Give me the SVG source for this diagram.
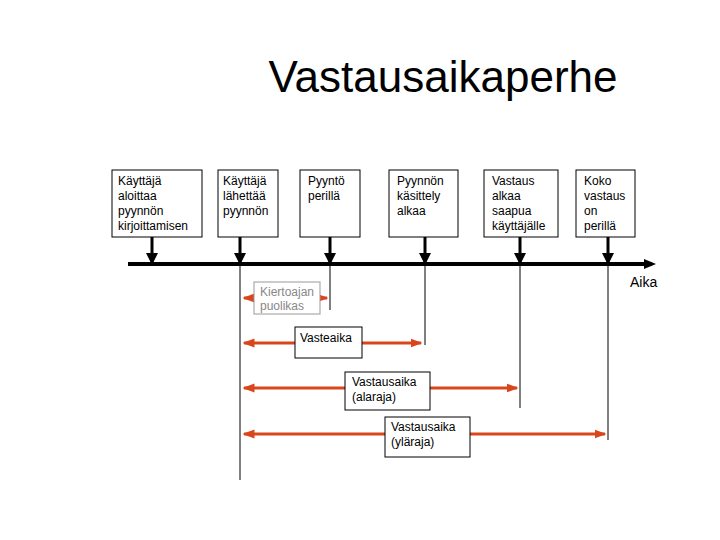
<svg xmlns="http://www.w3.org/2000/svg" width="720" height="540" viewBox="0 0 720 540">
<style>
text{font-family:"Liberation Sans",Arial,sans-serif;font-size:12px;fill:#000}
.b{fill:#fff;stroke:#000;stroke-width:1}
.d{stroke:#000;stroke-width:3;marker-end:url(#bk)}
.v{stroke:#000;stroke-width:1}
.r{stroke:#d9461c;stroke-width:3;marker-start:url(#rs);marker-end:url(#re)}
</style>
<defs>
<marker id="bk" markerWidth="4" markerHeight="4" refX="3" refY="2" orient="auto"><path d="M0,0L4,2L0,4z" fill="#000"/></marker>
<marker id="re" markerWidth="4" markerHeight="4" refX="3.5" refY="2" orient="auto"><path d="M0,0.5L4,2L0,3.5z" fill="#d9461c"/></marker>
<marker id="rs" markerWidth="4" markerHeight="4" refX="0.5" refY="2" orient="auto"><path d="M4,0.5L0,2L4,3.5z" fill="#d9461c"/></marker>
</defs>
<text x="443" y="92" text-anchor="middle" style="font-size:44px">Vastausaikaperhe</text>
<g id="connectors">
<line x1="128" y1="264" x2="652" y2="264" stroke="#000" stroke-width="4"/>
<path d="M644,259L656,264L644,269z" fill="#000"/>
<line class="d" x1="152" y1="237" x2="152" y2="262"/>
<line class="d" x1="240" y1="237" x2="240" y2="262"/>
<line class="d" x1="330" y1="237" x2="330" y2="262"/>
<line class="d" x1="425" y1="237" x2="425" y2="262"/>
<line class="d" x1="520" y1="237" x2="520" y2="262"/>
<line class="d" x1="608" y1="237" x2="608" y2="262"/>
<line class="v" x1="240" y1="264" x2="240" y2="480"/>
<line class="v" x1="330" y1="264" x2="330" y2="310"/>
<line class="v" x1="425" y1="264" x2="425" y2="345"/>
<line class="v" x1="520" y1="264" x2="520" y2="408"/>
<line class="v" x1="608" y1="264" x2="608" y2="440"/>
<line class="r" x1="244" y1="298" x2="327" y2="298"/>
<line class="r" x1="244" y1="343" x2="421" y2="343"/>
<line class="r" x1="244" y1="388" x2="517" y2="388"/>
<line class="r" x1="244" y1="434" x2="605" y2="434"/>
</g>
<text x="630" y="287" style="font-size:14px">Aika</text>
<g id="n1"><rect class="b" x="112" y="170" width="90" height="67"/><text x="118" y="185">Käyttäjä</text><text x="118" y="200">aloittaa</text><text x="118" y="215">pyynnön</text><text x="118" y="230">kirjoittamisen</text></g>
<g id="n2"><rect class="b" x="218" y="170" width="60" height="67"/><text x="223" y="185">Käyttäjä</text><text x="223" y="200">lähettää</text><text x="223" y="215">pyynnön</text></g>
<g id="n3"><rect class="b" x="300" y="170" width="60" height="67"/><text x="308" y="185">Pyyntö</text><text x="308" y="200">perillä</text></g>
<g id="n4"><rect class="b" x="389" y="170" width="69" height="67"/><text x="397" y="185">Pyynnön</text><text x="397" y="200">käsittely</text><text x="397" y="215">alkaa</text></g>
<g id="n5"><rect class="b" x="484" y="170" width="74" height="67"/><text x="492" y="185">Vastaus</text><text x="492" y="200">alkaa</text><text x="492" y="215">saapua</text><text x="492" y="230">käyttäjälle</text></g>
<g id="n6"><rect class="b" x="576" y="170" width="59" height="67"/><text x="584" y="185">Koko</text><text x="584" y="200">vastaus</text><text x="584" y="215">on</text><text x="584" y="230">perillä</text></g>
<g id="k"><rect x="254" y="282" width="66" height="32" fill="#fff" stroke="#999"/><text x="260" y="296" style="fill:#888">Kiertoajan</text><text x="260" y="310" style="fill:#888">puolikas</text></g>
<g id="va"><rect class="b" x="295" y="327" width="67" height="31"/><text x="300" y="342">Vasteaika</text></g>
<g id="al"><rect class="b" x="345" y="372" width="85" height="38"/><text x="352" y="386">Vastausaika</text><text x="352" y="401">(alaraja)</text></g>
<g id="yl"><rect class="b" x="385" y="417" width="85" height="40"/><text x="391" y="431">Vastausaika</text><text x="391" y="446">(yläraja)</text></g>
</svg>
